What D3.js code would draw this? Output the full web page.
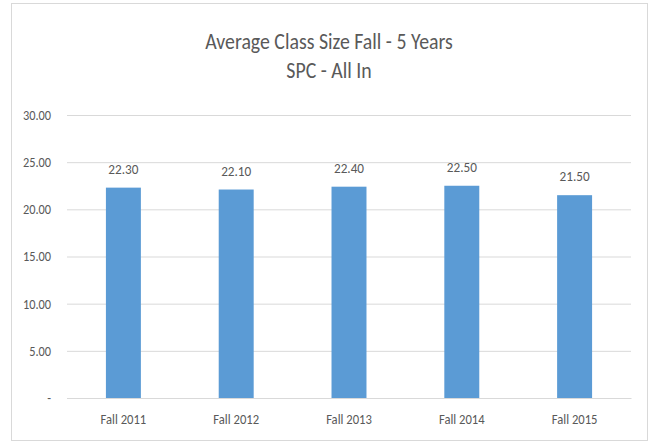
<!DOCTYPE html>
<html>
<head>
<meta charset="utf-8">
<script src="https://cdn.jsdelivr.net/npm/d3@7"></script>
<style>
  body { margin: 0; background: #fff; }
  text { font-family: Carlito, 'Liberation Sans Narrow', Lato, 'Open Sans', sans-serif; fill: #595959; }
</style>
</head>
<body>
<div id="chart"></div>
<script>
// chart data
const categories = ['Fall 2011', 'Fall 2012', 'Fall 2013', 'Fall 2014', 'Fall 2015'];
const classSize = [22.3, 22.1, 22.4, 22.5, 21.5];
const yTicks = [0, 5, 10, 15, 20, 25, 30];
const titleLines = ['Average Class Size Fall - 5 Years', 'SPC - All In'];

const width = 652;
const height = 442;
const plot = { left: 67, right: 631, top: 115, bottom: 398 };

// squeeze text a little so Lato looks closer to the narrow original
const squeeze = (sel, k) => sel.each(function () {
  const w = this.getComputedTextLength();
  d3.select(this).attr('textLength', w * k).attr('lengthAdjust', 'spacingAndGlyphs');
});

const svg = d3.select('#chart')
  .append('svg')
  .attr('width', width)
  .attr('height', height);

// outer frame
svg.append('rect')
  .attr('x', 11.5)
  .attr('y', 3.5)
  .attr('width', 636)
  .attr('height', 437)
  .attr('fill', '#fff')
  .attr('stroke', '#d9d9d9');

svg.selectAll('.title')
  .data(titleLines)
  .enter()
  .append('text')
  .attr('class', 'title')
  .attr('x', 329)
  .attr('y', (d, i) => 49 + i * 29)
  .attr('text-anchor', 'middle')
  .style('font-size', '22px')
  .text((d) => d)
  .call(squeeze, 0.9);

const x = d3.scaleBand()
  .domain(categories)
  .range([plot.left, plot.right])
  .paddingInner(0.69)
  .paddingOuter(0.345);

const y = d3.scaleLinear()
  .domain([0, 30])
  .range([plot.bottom, plot.top]);

// gridlines + y labels
const yAxis = svg.append('g')
  .attr('transform', `translate(${plot.left},0)`)
  .call(d3.axisLeft(y)
    .tickValues(yTicks)
    .tickSize(-(plot.right - plot.left))
    .tickPadding(16)
    .tickFormat((d) => (d === 0 ? '-' : d3.format('.2f')(d))));

yAxis.select('.domain').remove();
yAxis.selectAll('.tick line').attr('stroke', '#d9d9d9');
yAxis.selectAll('.tick text')
  .style('font-size', '14px')
  .attr('fill', '#595959')
  .call(squeeze, 0.88);

// bars
svg.selectAll('.bar')
  .data(classSize)
  .enter()
  .append('rect')
  .attr('class', 'bar')
  .attr('x', (d, i) => x(categories[i]))
  .attr('y', (d) => y(d))
  .attr('width', x.bandwidth())
  .attr('height', (d) => y(0) - y(d))
  .attr('fill', '#5b9bd5');

// value labels
svg.selectAll('.val')
  .data(classSize)
  .enter()
  .append('text')
  .attr('class', 'val')
  .attr('x', (d, i) => x(categories[i]) + x.bandwidth() / 2)
  .attr('y', (d) => y(d) - 14)
  .attr('text-anchor', 'middle')
  .style('font-size', '15px')
  .text((d) => d3.format('.2f')(d))
  .call(squeeze, 0.88);

// x axis
const xAxis = svg.append('g')
  .attr('transform', `translate(0,${plot.bottom})`)
  .call(d3.axisBottom(x).tickSize(0).tickPadding(16));

xAxis.select('.domain').attr('stroke', '#d9d9d9');
xAxis.selectAll('.tick text')
  .style('font-size', '14px')
  .attr('fill', '#595959')
  .call(squeeze, 0.9);
</script>
</body>
</html>
